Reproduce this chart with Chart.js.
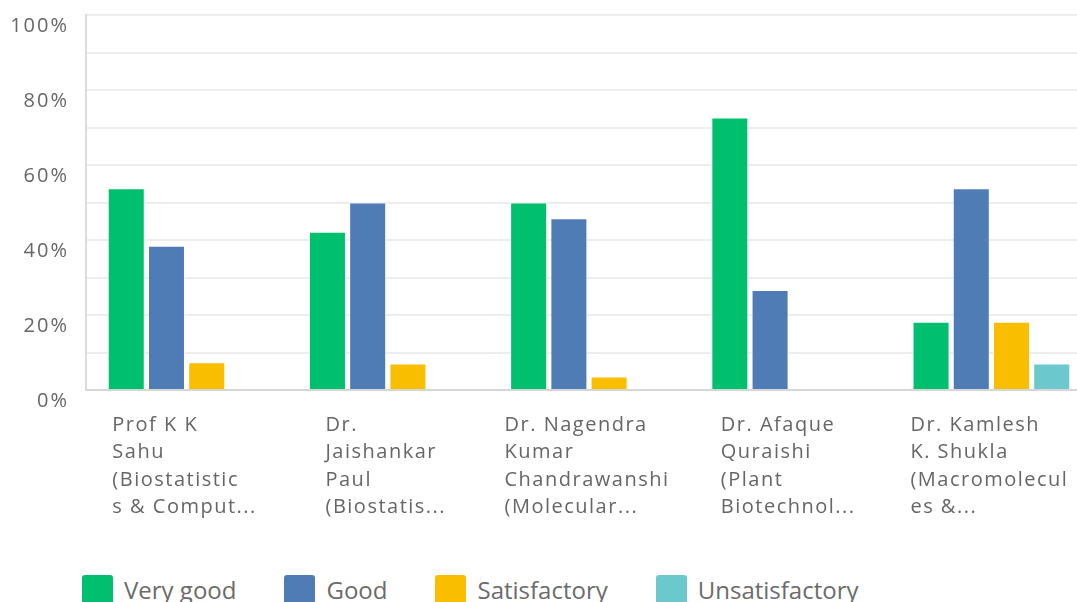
<!DOCTYPE html>
<html>
<head>
<meta charset="utf-8">
<script src="https://cdn.jsdelivr.net/npm/chart.js@4.4.0/dist/chart.umd.min.js"></script>
<style>
    html, body { margin: 0; padding: 0; background: #fff; overflow: hidden; }
    #surveyChart { position: absolute; left: 0; top: -14px; }
    #legend {
        position: absolute; left: 82px; top: 575px;
        display: flex; font-family: "Open Sans", sans-serif; font-size: 24px; color: #6b6b6b;
    }
    .lg-item { display: flex; align-items: flex-start; margin-right: 48px; line-height: 30px; }
    .lg-box { width: 31px; height: 30px; border-radius: 3px; margin-right: 11px; }
</style>
</head>
<body>
<canvas id="surveyChart" width="1092" height="554"></canvas>
<div id="legend"></div>
<script>
const instructors = [
    ['Prof K K', 'Sahu', '(Biostatistic', 's & Comput...'],
    ['Dr.', 'Jaishankar', 'Paul', '(Biostatis...'],
    ['Dr. Nagendra', 'Kumar', 'Chandrawanshi', '(Molecular...'],
    ['Dr. Afaque', 'Quraishi', '(Plant', 'Biotechnol...'],
    ['Dr. Kamlesh', 'K. Shukla', '(Macromolecul', 'es &...']
];
const seriesNames = ['Very good', 'Good', 'Satisfactory', 'Unsatisfactory'];
const seriesColors = ['#00bf6f', '#507cb6', '#f9be00', '#6bc8cd'];

const veryGood = [53.8, 42.2, 50.0, 72.7, 18.2];
const good = [38.5, 50.0, 45.8, 26.7, 53.8];
const satisfactory = [7.4, 7.1, 3.6, 0, 18.2];
const unsatisfactory = [0, 0, 0, 0, 7.1];

const yTicks = [0, 20, 40, 60, 80, 100];

// wider text like the original survey font
const letterSpacing = {
    id: 'letterSpacing',
    beforeDraw(chart) { chart.ctx.letterSpacing = '2px'; }
};

// draw the multi-line category names, left aligned inside a centred block
const categoryLabels = {
    id: 'categoryLabels',
    afterDraw(chart) {
        const ctx = chart.ctx;
        const xScale = chart.scales.x;
        ctx.save();
        ctx.font = '20px "Open Sans", sans-serif';
        ctx.letterSpacing = '1.5px';
        ctx.fillStyle = '#666';
        ctx.textBaseline = 'middle';
        ctx.textAlign = 'left';
        instructors.forEach((lines, i) => {
            const cx = xScale.getPixelForValue(i);
            const w = Math.max(...lines.map(l => ctx.measureText(l).width));
            const left = cx - w / 2 - 2;
            lines.forEach((line, j) => {
                ctx.fillText(line, left, chart.chartArea.bottom + 35 + j * 27.5);
            });
        });
        ctx.restore();
    }
};

const datasets = [veryGood, good, satisfactory, unsatisfactory].map((vals, i) => ({
    label: seriesNames[i],
    data: vals,
    backgroundColor: seriesColors[i],
    borderColor: 'rgba(255,255,255,0.6)',
    borderWidth: 1,
    barPercentage: 0.92,
    categoryPercentage: 0.8
}));

new Chart(document.getElementById('surveyChart'), {
    type: 'bar',
    data: { labels: instructors.map(l => l.join(' ')), datasets },
    options: {
        responsive: false,
        animation: false,
        layout: { padding: { top: 0, left: 0, right: 0, bottom: 0 } },
        plugins: {
            legend: { display: false },
            tooltip: { enabled: false }
        },
        scales: {
            x: {
                grid: { display: false },
                border: { color: '#d6d6d6', width: 2 },
                ticks: { display: false },
                afterFit(scale) { scale.height = 150; }
            },
            y: {
                min: 0,
                max: 100,
                grid: { color: '#ededed', lineWidth: 2, drawTicks: false },
                border: { color: '#dcdcdc', width: 2 },
                ticks: {
                    stepSize: 10,
                    padding: 17,
                    labelOffset: 11,
                    color: '#666',
                    font: { family: '"Open Sans", sans-serif', size: 20 },
                    callback: v => yTicks.includes(v) ? v + '%' : ''
                },
                afterFit(scale) { scale.width = 86; }
            }
        }
    },
    plugins: [letterSpacing, categoryLabels]
});

// html legend
const legend = document.getElementById('legend');
seriesNames.forEach((name, i) => {
    const item = document.createElement('div');
    item.className = 'lg-item';
    item.innerHTML = `<span class="lg-box" style="background:${seriesColors[i]}"></span><span>${name}</span>`;
    legend.appendChild(item);
});
</script>
</body>
</html>
